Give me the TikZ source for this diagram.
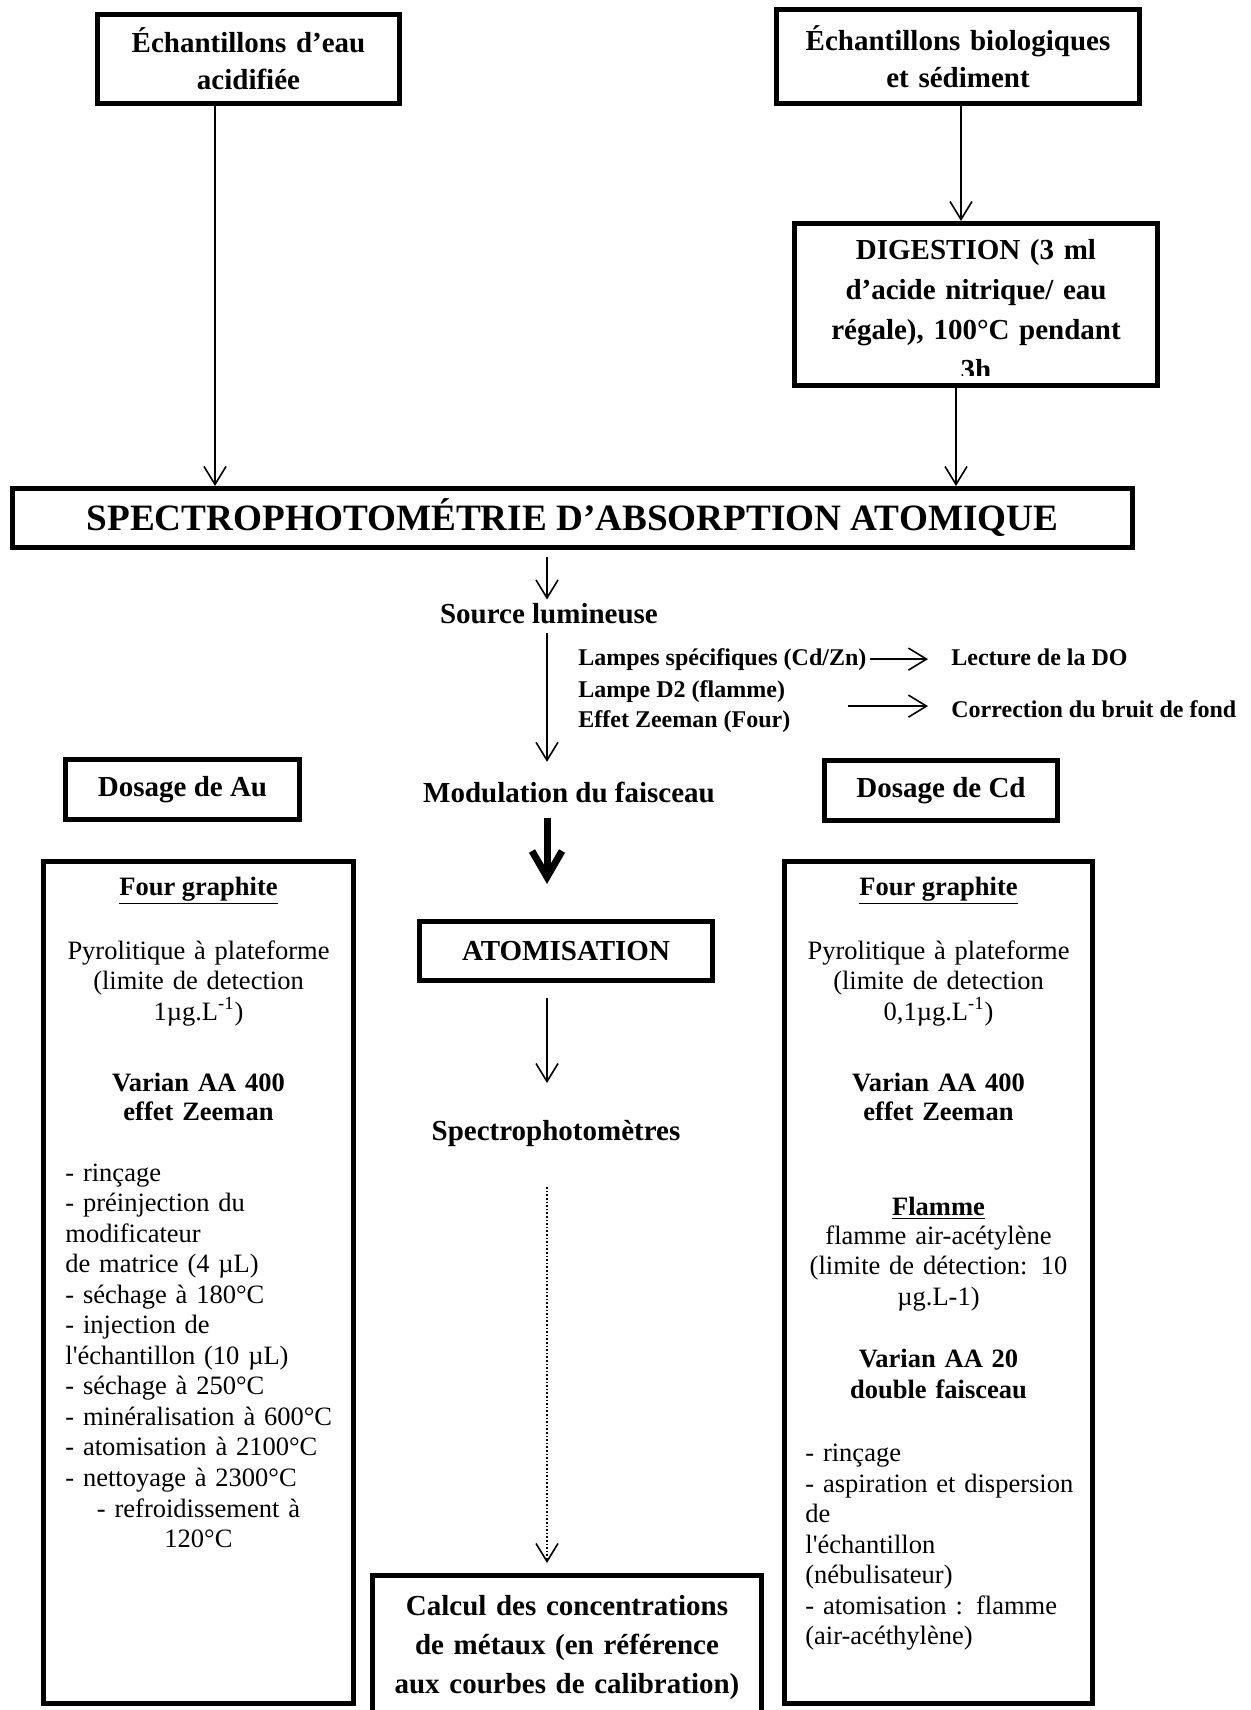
\documentclass[tikz,border=0pt]{standalone}
\usepackage{fontspec}
\setmainfont{Liberation Serif}[Ligatures=TeXOff]
\usetikzlibrary{arrows.meta}
\usetikzlibrary{positioning}
\tikzstyle{boite} = [draw, line width=2.5pt, inner sep=2pt, align=center]
\tikzstyle{ligne} = [draw, line width=0.8pt, -{Straight Barb[length=9pt,width=11pt]}]
\newcommand{\grasfont}{\fontsize{14.5}{18.5}\selectfont\bfseries}
\newcommand{\corpsfont}{\fontsize{13.25}{15.25}\selectfont}
\newcommand{\lampefont}{\fontsize{12}{15}\selectfont\bfseries}

\begin{document}
\begin{tikzpicture}[x=0.5pt, y=-0.5pt,
	texte/.style={inner sep=1.5pt, anchor=base, font=\grasfont},
	corps/.style={inner sep=0pt, anchor=base, font=\corpsfont, text width=150pt, align=center},
	liste/.style={inner sep=0pt, anchor=base west, font=\corpsfont, text width=145pt, align=left},
	grosse/.style={draw, line width=3.5pt, -{Straight Barb[length=13pt,width=15pt]}}]
	\useasboundingbox (0,0) rectangle (1250,1710);
	\fill[white] (0,0) rectangle (1250,1710);
	%% Echantillons
	\node [boite, minimum width=151pt, minimum height=44.5pt, text width=140pt, font=\grasfont] (eau) at (248.5,59) {Échantillons d’eau\\acidifiée};
	\node [boite, minimum width=181.5pt, minimum height=47pt, text width=175pt, font=\grasfont] (bio) at (958,56.5) {Échantillons biologiques\\et sédiment};
	\node [boite, minimum width=181.5pt, minimum height=81pt] (dig) at (976,304.5) {};
	\begin{scope}
		\clip (792,221) rectangle (1160,375);
		\node [texte, text width=175pt, align=center, font=\fontsize{14.5}{20}\selectfont\bfseries] (digtexte) at (976,259) {DIGESTION (3 ml\\d’acide nitrique/ eau\\régale), 100°C pendant\\3h};
	\end{scope}
	\node [boite, minimum width=560pt, minimum height=29.5pt, font=\fontsize{18.6}{22}\selectfont\bfseries] (spectro) at (572.5,518) {SPECTROPHOTOMÉTRIE D’ABSORPTION ATOMIQUE};
	%% Chaine de mesure
	\coordinate (axe) at (547,0);
	\node [texte] (source) at (549,623) {Source lumineuse};
	\node [texte, anchor=base west, font=\lampefont] (lampes) at (575,665) {Lampes spécifiques (Cd/Zn)};
	\node [texte, anchor=base west, font=\lampefont, align=left] (correcteurs) at (575,727) {Lampe D2 (flamme)\\Effet Zeeman (Four)};
	\node [texte, anchor=base west, font=\lampefont] (lecture) at (948,665) {Lecture de la DO};
	\node [texte, anchor=base west, font=\lampefont] (correction) at (948,717) {Correction du bruit de fond};
	\node [texte] (modulation) at (569,802) {Modulation du faisceau};
	\node [boite, minimum width=146.5pt, minimum height=29.5pt, font=\grasfont] (atom) at (566,951) {ATOMISATION};
	\node [texte] (mesure) at (556,1140) {Spectrophotomètres};
	\node [boite, minimum width=194.5pt, minimum height=71pt] (calcul) at (567,1646.5) {};
	\node [texte, text width=190pt, align=center, font=\fontsize{14.5}{19.5}\selectfont\bfseries] (calcultexte) at (567,1615) {Calcul des concentrations\\de métaux (en référence\\aux courbes de calibration)};
	%% Dosage de Au
	\node [boite, minimum width=117pt, minimum height=30pt, font=\grasfont] (dosau) at (182.5,789.5) {Dosage de Au};
	\node [boite, minimum width=155pt, minimum height=421pt] (fourau) at (198.5,1282.5) {};
	\node [texte, inner sep=0pt, font=\corpsfont\bfseries] (fourautitre) at (198.5,895) {\underline{Four graphite}};
	\node [corps] (pyroau) at (198.5,959) {Pyrolitique à plateforme\\(limite de detection\\1µg.L\textsuperscript{-1})};
	\node [corps, font=\fontsize{13.25}{14.5}\selectfont\bfseries] (varianau) at (198.5,1091) {Varian AA 400\\effet Zeeman};
	\node [liste] (etapesau) at (65,1181) {- rinçage\\- préinjection du\\modificateur\\de matrice (4 µL)\\- séchage à 180°C\\- injection de\\l'échantillon (10 µL)\\- séchage à 250°C\\- minéralisation à 600°C\\- atomisation à 2100°C\\- nettoyage à 2300°C};
	\node [corps] (refroidau) at (198.5,1517) {- refroidissement à\\120°C};
	%% Dosage de Cd
	\node [boite, minimum width=116.5pt, minimum height=30pt, font=\grasfont] (doscd) at (941,790.5) {Dosage de Cd};
	\node [boite, minimum width=154pt, minimum height=421pt] (fourcd) at (938.5,1282.5) {};
	\node [texte, inner sep=0pt, font=\corpsfont\bfseries] (fourcdtitre) at (938.5,895) {\underline{Four graphite}};
	\node [corps] (pyrocd) at (938.5,959) {Pyrolitique à plateforme\\(limite de detection\\0,1µg.L\textsuperscript{-1})};
	\node [corps, font=\fontsize{13.25}{14.5}\selectfont\bfseries] (variancd) at (938.5,1091) {Varian AA 400\\effet Zeeman};
	\node [texte, inner sep=0pt, font=\corpsfont\bfseries] (flammetitre) at (938.5,1215) {\underline{Flamme}};
	\node [corps] (flammecd) at (938.5,1244) {flamme air-acétylène\\(limite de détection: 10\\µg.L-1)};
	\node [corps, font=\fontsize{13.25}{15.5}\selectfont\bfseries] (varian20) at (938.5,1367) {Varian AA 20\\double faisceau};
	\node [liste] (etapescd) at (805,1461.5) {- rinçage\\- aspiration et dispersion\\de\\l'échantillon\\(nébulisateur)\\- atomisation : flamme\\(air-acéthylène)};
	%% Flux
	\draw [ligne] ([xshift=-16.75pt]eau.south) -- ([xshift=-16.75pt]eau.south |- spectro.north);
	\draw [ligne] ([xshift=1.5pt]bio.south) -- ([xshift=1.5pt]bio.south |- dig.north);
	\draw [ligne] ([xshift=-10pt]dig.south) -- ([xshift=-10pt]dig.south |- spectro.north);
	\draw [ligne, shorten <=3.5pt] (spectro.south -| axe) -- (source.north -| axe);
	\draw [ligne, shorten <=3pt, shorten >=8.2pt] (source.south -| axe) -- (modulation.north -| axe);
	\draw [ligne, shorten >=10pt] (lampes.east) -- (lampes.east -| lecture.west);
	\draw [ligne, shorten <=27pt, shorten >=10pt] (correcteurs.east) -- (correcteurs.east -| correction.west);
	\draw [grosse, shorten <=6pt, shorten >=17.5pt] (modulation.south -| axe) -- (atom.north -| axe);
	\draw [ligne, shorten <=7.5pt, shorten >=16.7pt] (atom.south -| axe) -- (mesure.north -| axe);
	\draw [ligne, densely dotted, shorten <=18.8pt, shorten >=5pt] (mesure.south -| axe) -- (calcul.north -| axe);
\end{tikzpicture}
\end{document}
